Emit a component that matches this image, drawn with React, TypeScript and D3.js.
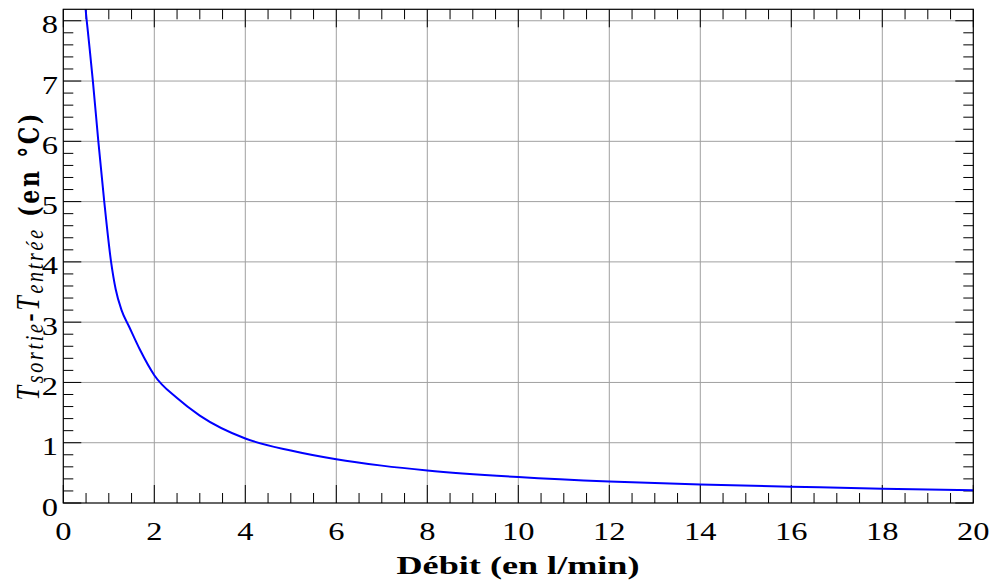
import React from "react";
import * as d3 from "d3";

const debit = [0.45, 0.49, 0.55, 0.65, 0.77, 0.9, 1.05, 1.15, 1.28, 1.45, 1.68, 2.0, 2.5, 3.0, 4.0, 5.0, 6.0, 7.0, 8.0, 10.0, 12.0, 14.0, 16.0, 18.0, 20.0];
const deltaT = [8.6, 8.2, 7.75, 7.0, 6.0, 5.0, 4.0, 3.55, 3.2, 2.92, 2.55, 2.12, 1.74, 1.45, 1.07, 0.87, 0.725, 0.62, 0.54, 0.43, 0.355, 0.305, 0.27, 0.237, 0.212];
const xMajorTicks = [0, 2, 4, 6, 8, 10, 12, 14, 16, 18, 20];
const yMajorTicks = [0, 1, 2, 3, 4, 5, 6, 7, 8];

const W = 992, H = 585;
const L = 63.3, R = 973.3, T = 9.3, B = 503;
const SERIF = "Liberation Serif";
const BOLD = "DejaVu Serif";
const SX = 1.3;

export default function App() {
  const x = d3.scaleLinear().domain([0, 20]).range([L, R]);
  const y = d3.scaleLinear().domain([0, 8.19]).range([B, T]);
  const xMinor = d3.range(0.5, 20, 0.5).filter((v) => Math.abs(v / 2 - Math.round(v / 2)) > 1e-6);
  const yMinor = d3.range(0.2, 8.1, 0.2).filter((v) => Math.abs(v - Math.round(v)) > 1e-6);
  const pts = debit.map((d, i) => [d, deltaT[i]] as [number, number]);
  const line = d3.line<[number, number]>().x((d) => x(d[0])).y((d) => y(d[1])).curve(d3.curveMonotoneX);
  const grid = "#a0a0a0";
  return (
    <svg width={W} height={H} style={{ position: "absolute", left: 0, top: 0 }}>
      <rect x={0} y={0} width={W} height={H} fill="#fff" />
      <defs>
        <clipPath id="plot">
          <rect x={L} y={T} width={R - L} height={B - T} />
        </clipPath>
      </defs>
      {xMajorTicks.slice(1, -1).map((v) => (
        <line key={"gx" + v} x1={x(v)} x2={x(v)} y1={T} y2={B} stroke={grid} strokeWidth={1} />
      ))}
      {yMajorTicks.slice(1).map((v) => (
        <line key={"gy" + v} x1={L} x2={R} y1={y(v)} y2={y(v)} stroke={grid} strokeWidth={1} />
      ))}
      {xMinor.map((v) => (
        <g key={"xm" + v}>
          <line x1={x(v)} x2={x(v)} y1={B} y2={B - 10} stroke="#000" strokeWidth={1} />
          <line x1={x(v)} x2={x(v)} y1={T} y2={T + 10} stroke="#000" strokeWidth={1} />
        </g>
      ))}
      {xMajorTicks.map((v) => (
        <g key={"xM" + v}>
          <line x1={x(v)} x2={x(v)} y1={B} y2={B - 18} stroke="#000" strokeWidth={1} />
          <line x1={x(v)} x2={x(v)} y1={T} y2={T + 18} stroke="#000" strokeWidth={1} />
          <text transform={`translate(${x(v)},540) scale(${SX},1)`} textAnchor="middle" fontFamily={SERIF} fontSize={25} fill="#000">{v}</text>
        </g>
      ))}
      {yMinor.map((v) => (
        <g key={"ym" + v}>
          <line x1={L} x2={L + 10} y1={y(v)} y2={y(v)} stroke="#000" strokeWidth={1} />
          <line x1={R} x2={R - 10} y1={y(v)} y2={y(v)} stroke="#000" strokeWidth={1} />
        </g>
      ))}
      {yMajorTicks.map((v) => (
        <g key={"yM" + v}>
          <line x1={L} x2={L + 18} y1={y(v)} y2={y(v)} stroke="#000" strokeWidth={1} />
          <line x1={R} x2={R - 18} y1={y(v)} y2={y(v)} stroke="#000" strokeWidth={1} />
          <text transform={`translate(58,${y(v) + 12.5}) scale(${SX},1)`} textAnchor="end" fontFamily={SERIF} fontSize={25} fill="#000">{v}</text>
        </g>
      ))}
      <path d={line(pts) || ""} fill="none" stroke="#0000ff" strokeWidth={2} clipPath="url(#plot)" />
      <rect x={L} y={T} width={R - L} height={B - T} fill="none" stroke="#000" strokeWidth={1.2} />
      <text x={518} y={574} textAnchor="middle" fontFamily={SERIF} fontWeight="bold" fontSize={26} fill="#000" textLength={243} lengthAdjust="spacingAndGlyphs">Débit (en l/min)</text>
      <text transform={`translate(39, 257) rotate(-90) scale(1,${SX})`} textAnchor="middle" fontFamily={SERIF} fontSize={26} fill="#000" textLength={287} lengthAdjust="spacing">
        <tspan fontStyle="italic">T</tspan>
        <tspan fontStyle="italic" fontSize={20} dy={3}>sortie</tspan>
        <tspan dy={-3} fontWeight="bold" fontSize={24}>-</tspan>
        <tspan fontStyle="italic">T</tspan>
        <tspan fontStyle="italic" fontSize={20} dy={3}>entrée</tspan>
        <tspan dy={-3} fontFamily={BOLD} fontWeight="bold" fontSize={22}>{"\u00a0(en °C)"}</tspan>
      </text>
    </svg>
  );
}
